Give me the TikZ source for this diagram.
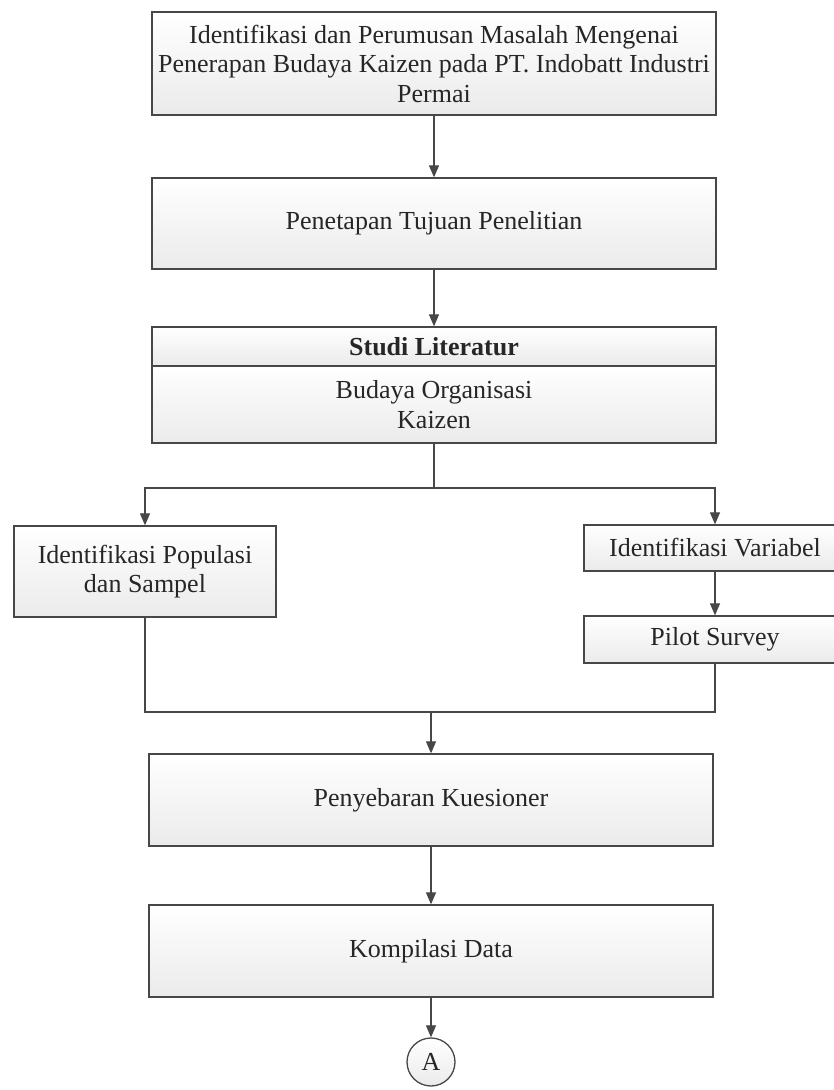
\documentclass[tikz,border=0pt]{standalone}
\usepackage{fontspec}
\setmainfont{Liberation Serif}
\usetikzlibrary{arrows.meta}

\begin{document}
\begin{tikzpicture}[x=1pt, y=-1pt,
    box/.style={draw=black!72, line width=1.3pt, top color=white, bottom color=black!8,
        text=black!85, inner sep=0pt, align=center, font=\fontsize{26}{29.5}\selectfont},
    arrow/.style={draw=black!72, line width=1.2pt, -{Triangle[length=12pt, width=10pt]}},
    link/.style={draw=black!72, line width=1.2pt}]
    \useasboundingbox (0,0) rectangle (833,1090);
    \node[box, minimum width=564pt, minimum height=103pt] (ident) at (434,63.5) {Identifikasi dan Perumusan Masalah Mengenai\\Penerapan Budaya Kaizen pada PT. Indobatt Industri\\Permai};
    \node[box, minimum width=564pt, minimum height=91pt] (tujuan) at (434,223.5) {Penetapan Tujuan Penelitian};
    \node[box, minimum width=564pt, minimum height=39pt] (lithead) at (434,346.5) {\bfseries Studi Literatur};
    \node[box, minimum width=564pt, minimum height=77pt] (litbody) at (434,404.5) {Budaya Organisasi\\Kaizen};
    \node[box, minimum width=262pt, minimum height=91pt] (populasi) at (145,571.5) {Identifikasi Populasi\\dan Sampel};
    \node[box, minimum width=262pt, minimum height=46pt] (variabel) at (715,548) {Identifikasi Variabel};
    \node[box, minimum width=262pt, minimum height=47pt] (pilot) at (715,639.5) {Pilot Survey};
    \node[box, minimum width=564pt, minimum height=92pt] (kuesioner) at (431,800) {Penyebaran Kuesioner};
    \node[box, minimum width=564pt, minimum height=92pt] (kompilasi) at (431,951) {Kompilasi Data};
    \node[box, circle, minimum size=48pt] (conA) at (431,1062) {A};
    \coordinate (split) at (434,488);
    \coordinate (merge) at (431,712);
    \path (ident) edge[arrow] (tujuan);
    \path (tujuan) edge[arrow] (lithead);
    \path (litbody) edge[link] (split);
    \draw[arrow] (split) -| (populasi.north);
    \draw[arrow] (split) -| (variabel.north);
    \path (variabel) edge[arrow] (pilot);
    \draw[link] (populasi.south) |- (merge);
    \draw[link] (pilot.south) |- (merge);
    \path (merge) edge[arrow] (kuesioner);
    \path (kuesioner) edge[arrow] (kompilasi);
    \path (kompilasi) edge[arrow] (conA);
\end{tikzpicture}
\end{document}
